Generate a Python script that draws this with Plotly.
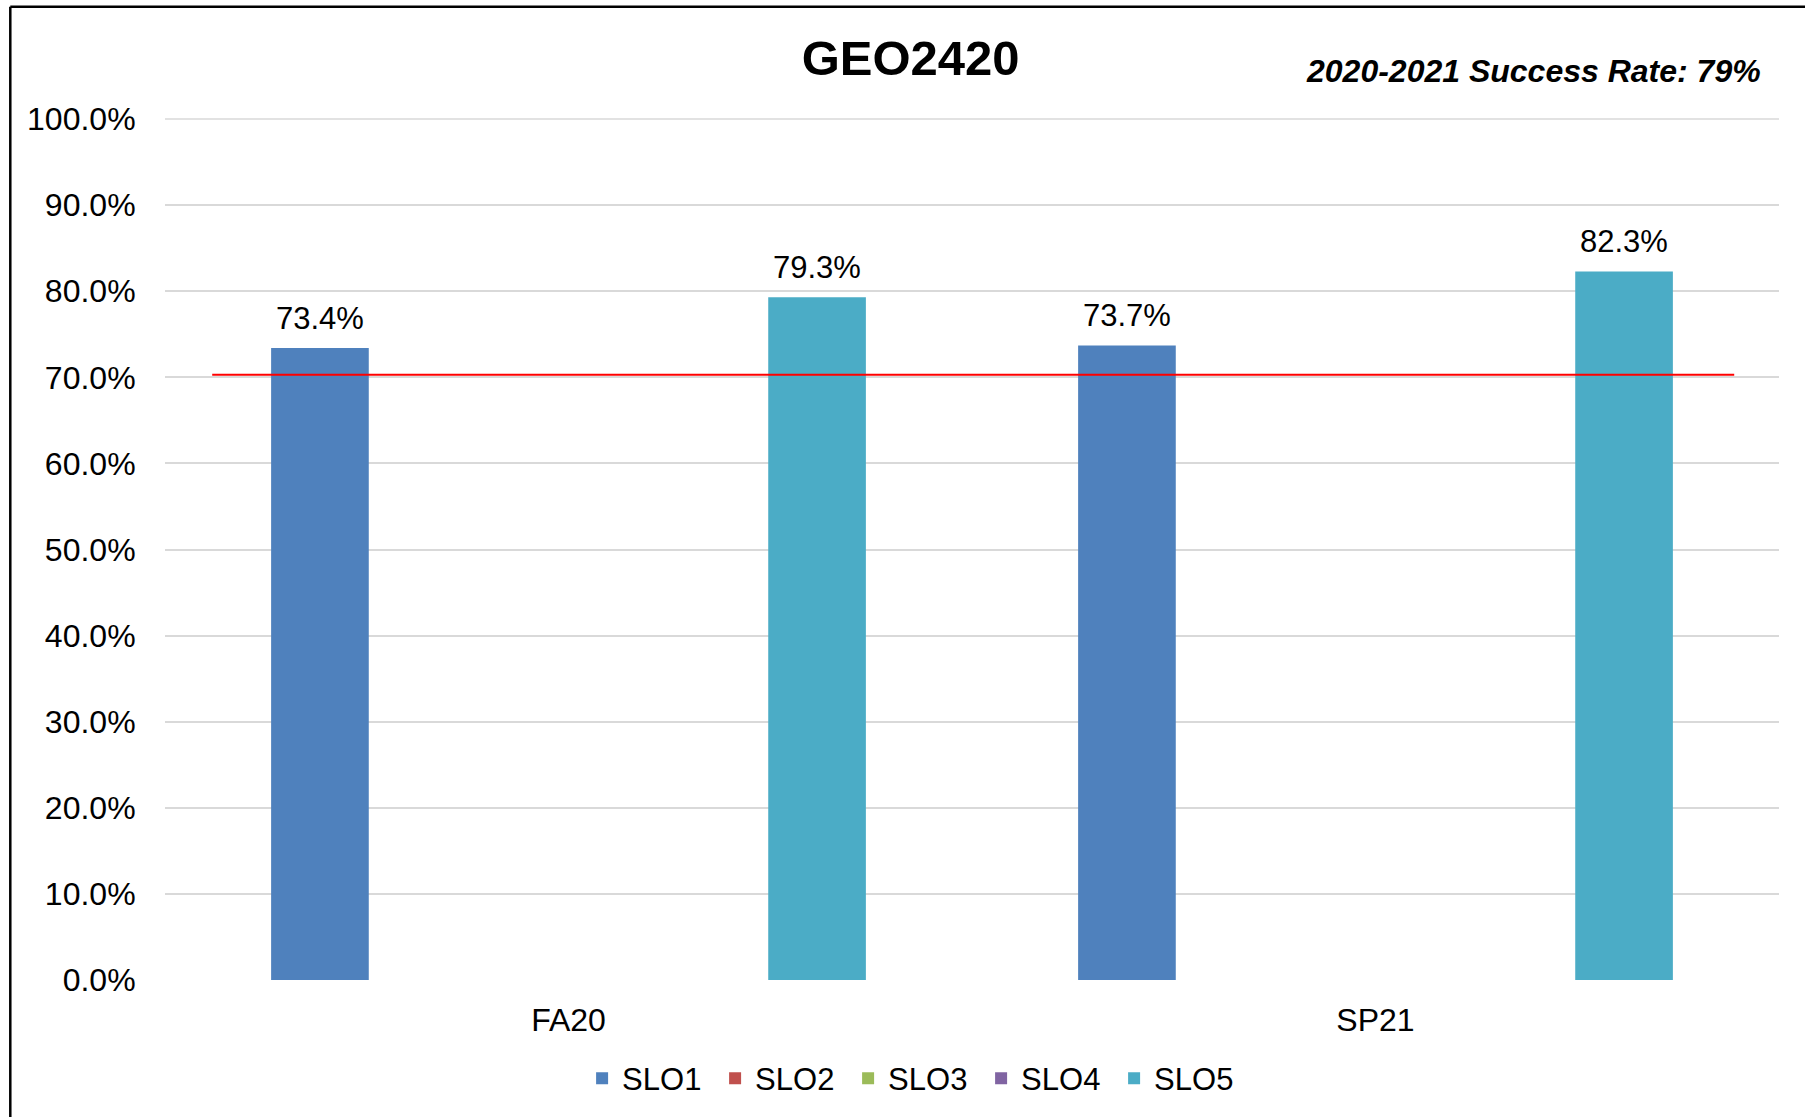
import plotly.graph_objects as go

categories = ["FA20", "SP21"]
series_names = ["SLO1", "SLO2", "SLO3", "SLO4", "SLO5"]
slo1 = [73.4, 73.7]
slo2 = [None, None]
slo3 = [None, None]
slo4 = [None, None]
slo5 = [79.3, 82.3]
series_values = [slo1, slo2, slo3, slo4, slo5]
colors = ["#4F81BD", "#C0504D", "#9BBB59", "#8064A2", "#4BACC6"]
target = 70.3
y_ticks = [0, 10, 20, 30, 40, 50, 60, 70, 80, 90, 100]
y_tick_labels = ["%.1f%%" % v for v in y_ticks]
title_text = "GEO2420"
subtitle_text = "2020-2021 Success Rate: 79%"

W, H = 1805, 1117
ml, mr, mt, mb = 165, 26, 119, 137
FONT = "Liberation Sans, Arial, sans-serif"
FS = 31

bar_w = 0.121
slot = 0.154
pw = W - ml - mr
ph = H - mt - mb
cat_px = pw / len(categories)

fig = go.Figure()
for i, (name, vals, col) in enumerate(zip(series_names, series_values, colors)):
    center = (i - 2) * slot
    fig.add_trace(go.Bar(
        x=categories, y=vals, name=name,
        marker=dict(color=col, line=dict(width=0)),
        width=bar_w, offset=center - bar_w / 2,
        hoverinfo="x+y+name",
    ))
    for cat, v in zip(categories, vals):
        if v is None:
            continue
        fig.add_annotation(x=cat, y=v, xref="x", yref="y", text="%.1f%%" % v,
                           showarrow=False, xanchor="center", yanchor="bottom",
                           xshift=center * cat_px, yshift=10,
                           font=dict(family=FONT, size=FS, color="black"))

# top gridline (plotly skips gridlines on the range edge)
fig.add_shape(type="line", xref="paper", yref="paper", x0=0, x1=1, y0=1, y1=1,
              layer="below", line=dict(color="#D9D9D9", width=1.5))

fig.add_shape(type="line", xref="x", yref="y", x0=-0.4415, x1=1.4445,
              y0=target, y1=target, line=dict(color="#FF0000", width=2))

# chart border (only top/left visible in crop)
bx = (10.3 - ml) / pw
by = (H - mb - 6.7) / ph
fig.add_shape(type="line", xref="paper", yref="paper", x0=bx, x1=1.2, y0=by, y1=by,
              line=dict(color="black", width=2.5))
fig.add_shape(type="line", xref="paper", yref="paper", x0=bx, x1=bx, y0=by, y1=-0.4,
              line=dict(color="black", width=2.5))

fig.add_annotation(text="<b><i>" + subtitle_text + "</i></b>", xref="paper", yref="paper",
                   x=(1763 - ml) / pw, y=(H - mb - 71) / ph, xanchor="right", yanchor="middle",
                   showarrow=False, font=dict(family=FONT, size=32, color="black"))

fig.update_layout(
    width=W, height=H,
    margin=dict(l=ml, r=mr, t=mt, b=mb, autoexpand=False),
    paper_bgcolor="white", plot_bgcolor="white",
    barmode="group",
    title=dict(text="<b>" + title_text + "</b>", x=910.6 / W, xanchor="center",
               y=1 - 57.6 / H, yanchor="middle", yref="container",
               font=dict(family=FONT, size=49, color="black")),
    font=dict(family=FONT, size=FS, color="black"),
    showlegend=True,
    legend=dict(orientation="h", x=(914.6 - ml) / pw, xanchor="center",
                y=(H - mb - 1078.6) / ph, yanchor="middle",
                font=dict(family=FONT, size=FS, color="black"),
                itemwidth=30, entrywidth=88, traceorder="normal"),
    xaxis=dict(type="category", range=[-0.5, 1.5], showgrid=False, zeroline=False,
               showline=False, ticks="outside", ticklen=12, tickcolor="rgba(0,0,0,0)",
               tickfont=dict(family=FONT, size=32, color="black")),
    yaxis=dict(range=[0, 100], tickvals=y_ticks, ticktext=y_tick_labels,
               showgrid=True, gridcolor="#D9D9D9", gridwidth=1.5, zeroline=False,
               showline=False, ticks="outside", ticklen=22, tickcolor="rgba(0,0,0,0)",
               tickfont=dict(family=FONT, size=32, color="black")),
)

fig.write_html("out.html", config={"displayModeBar": False},
               post_script="document.body.style.margin='0';document.body.style.overflow='hidden';")
